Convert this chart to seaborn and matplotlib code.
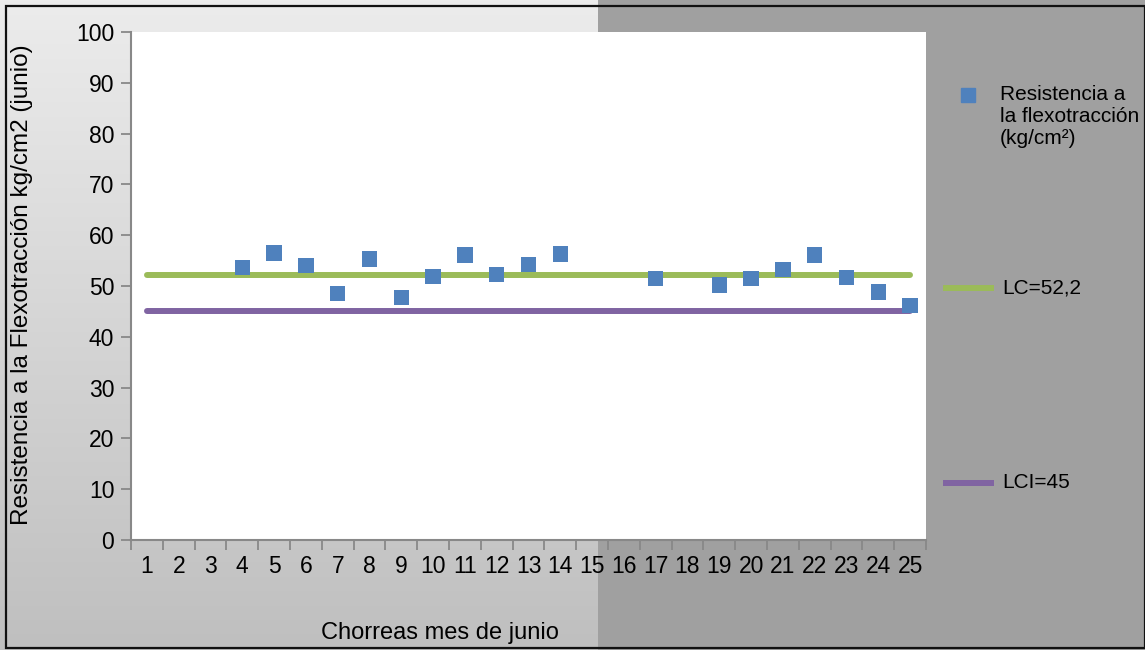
import numpy as np
import pandas as pd
import matplotlib
matplotlib.use("Agg")
import matplotlib.pyplot as plt
from matplotlib.patches import Rectangle
import seaborn as sns

# Chorreas (castings) of June and their flexural strength
chorreas = [4, 5, 6, 7, 8, 9, 10, 11, 12, 13, 14, 17, 19, 20, 21, 22, 23, 24, 25]
resistencia = [53.7, 56.5, 54.1, 48.6, 55.3, 47.8, 51.8, 56.1, 52.2, 54.3, 56.3,
               51.4, 50.2, 51.4, 53.3, 56.1, 51.6, 48.8, 46.1]
categorias = list(range(1, 26))
lc_valor = 52.2
lci_valor = 45

serie_label = "Resistencia a\nla flexotracción\n(kg/cm²)"
lc_label = "LC=52,2"
lci_label = "LCI=45"

azul = "#4f81bd"
verde = "#9bbb59"
morado = "#8064a2"

sns.set_theme(style="white")
plt.rcParams["font.family"] = ["Liberation Sans", "DejaVu Sans"]

W_PX, H_PX = 1145, 650
fig = plt.figure(figsize=(W_PX / 100, H_PX / 100), dpi=100)


def fx(px):
    return px / W_PX


def fy(py):
    return 1 - py / H_PX


# Background: light vertical gradient on the left, flat grey on the right
bg = fig.add_axes([0, 0, 1, 1], zorder=-10)
bg.set_axis_off()
bg.set_xlim(0, 1)
bg.set_ylim(0, 1)
grad = np.linspace(0, 1, 256).reshape(-1, 1)
cmap = matplotlib.colors.LinearSegmentedColormap.from_list("g", ["#ececec", "#bfbfbf"])
bg.imshow(grad, aspect="auto", cmap=cmap, extent=[0, fx(598), 0, 1], origin="upper")
bg.add_patch(Rectangle((fx(598), 0), 1 - fx(598), 1, color="#a0a0a0", lw=0))
bg.add_patch(Rectangle((fx(6), fy(648)), 1 - fx(6), fy(6) - fy(648), fill=False,
                       edgecolor="#111111", lw=1.6))

ax = fig.add_axes([fx(131), fy(540), fx(926) - fx(131), fy(32) - fy(540)])
ax.set_facecolor("white")

lineas = pd.DataFrame({
    "x": categorias * 2,
    "y": [lc_valor] * len(categorias) + [lci_valor] * len(categorias),
    "serie": [lc_label] * len(categorias) + [lci_label] * len(categorias),
})
sns.lineplot(data=lineas, x="x", y="y", hue="serie",
             palette={lc_label: verde, lci_label: morado},
             linewidth=4.3, ax=ax, legend=False, zorder=2)

puntos = pd.DataFrame({"x": chorreas, "y": resistencia})
sns.scatterplot(data=puntos, x="x", y="y", marker="s", s=120, color=azul,
                edgecolor="none", ax=ax, zorder=3, legend=False)

ax.set_xlim(0.5, 25.5)
ax.set_ylim(0, 100)
ax.set_yticks(range(0, 101, 10))
ax.set_xticks(categorias)
ax.set_xticklabels([str(c) for c in categorias])
ax.set_xticks(np.arange(0.5, 26, 1), minor=True)
ax.tick_params(axis="x", which="major", length=0, pad=11, labelsize=16.5, colors="black")
ax.tick_params(axis="x", which="minor", length=7, width=1.3, color="#888888",
               direction="out", bottom=True)
ax.tick_params(axis="y", which="major", length=7, width=1.3, color="#888888",
               direction="out", left=True, labelsize=16.5, pad=5)
for lbl in ax.get_xticklabels() + ax.get_yticklabels():
    lbl.set_color("black")

for s in ["top", "right"]:
    ax.spines[s].set_visible(False)
for s in ["left", "bottom"]:
    ax.spines[s].set_color("#888888")
    ax.spines[s].set_linewidth(1.5)

ax.set_xlabel("")
ax.set_ylabel("")
fig.text(fx(22), fy(285), "Resistencia a la Flexotracción kg/cm2 (junio)",
         rotation=90, ha="center", va="center", fontsize=17.5, color="black")
fig.text(fx(440), fy(633), "Chorreas mes de junio",
         ha="center", va="center", fontsize=17, color="black")

# Legend entries down the right margin
bg.plot([fx(968)], [fy(95)], marker="s", markersize=9.5, color=azul, linestyle="none")
bg.text(fx(1000), fy(85), serie_label, ha="left", va="top", fontsize=15,
        color="black", linespacing=1.2)
bg.plot([fx(943), fx(994)], [fy(288), fy(288)], color=verde, lw=4.3,
        solid_capstyle="butt")
bg.text(fx(1002), fy(288), lc_label, ha="left", va="center", fontsize=15, color="black")
bg.plot([fx(943), fx(994)], [fy(483), fy(483)], color=morado, lw=4.3,
        solid_capstyle="butt")
bg.text(fx(1002), fy(483), lci_label, ha="left", va="center", fontsize=15, color="black")

fig.savefig("out.png", dpi=100)
